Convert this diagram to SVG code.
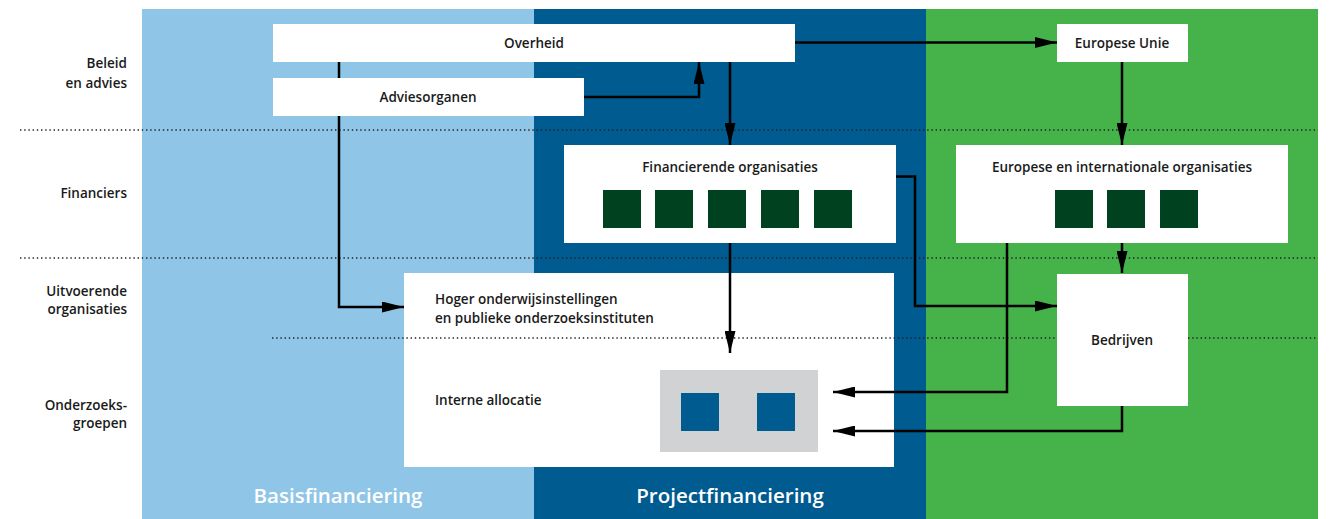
<svg xmlns="http://www.w3.org/2000/svg" width="1332" height="519" viewBox="0 0 1332 519">
<style>
.t{font-family:"Open Sans","Noto Sans","Liberation Sans",sans-serif;font-weight:600;font-size:13.5px;fill:#1a1a1a}
.c{text-anchor:middle}
.r{text-anchor:end}
.big{font-family:"Open Sans","Noto Sans","Liberation Sans",sans-serif;font-weight:600;font-size:20.5px;fill:#ffffff;text-anchor:middle}
.box{fill:#ffffff}
.sq{fill:#00421f}
.bsq{fill:#005b90}
.dot{stroke:#222;stroke-width:1.3;stroke-dasharray:1.4 2.8;fill:none}
.ln{stroke:#000;stroke-width:2.5;fill:none;marker-end:url(#arr)}
</style>
<defs>
<marker id="arr" markerUnits="userSpaceOnUse" markerWidth="22" markerHeight="11" refX="22" refY="5.5" orient="auto">
<path d="M0,0 L22,5.5 L0,11 z" fill="#000"/>
</marker>
</defs>
<rect width="1332" height="519" fill="#ffffff"/>
<g id="panels">
<rect x="142" y="9" width="392" height="510" fill="#8fc6e8"/>
<rect x="534" y="9" width="392" height="510" fill="#005b90"/>
<rect x="926" y="9" width="392" height="510" fill="#46b34a"/>
<text class="big" x="338" y="503">Basisfinanciering</text>
<text class="big" x="730" y="503">Projectfinanciering</text>
</g>
<g id="row-labels">
<text class="t r" x="127" y="67.5">Beleid</text>
<text class="t r" x="127" y="88">en advies</text>
<text class="t r" x="127" y="197.5">Financiers</text>
<text class="t r" x="127" y="296">Uitvoerende</text>
<text class="t r" x="127" y="314">organisaties</text>
<text class="t r" x="127" y="410">Onderzoeks-</text>
<text class="t r" x="127" y="428">groepen</text>
</g>
<g id="row-lines">
<line class="dot" x1="20" y1="130" x2="1318" y2="130"/>
<line class="dot" x1="20" y1="258" x2="1318" y2="258"/>
</g>
<g id="overheid">
<rect class="box" x="273" y="24" width="522" height="38"/>
<text class="t c" x="534" y="48">Overheid</text>
</g>
<g id="adviesorganen">
<rect class="box" x="273" y="78" width="311" height="38"/>
<text class="t c" x="428" y="102">Adviesorganen</text>
</g>
<g id="europese-unie">
<rect class="box" x="1057" y="24" width="131" height="38"/>
<text class="t c" x="1122" y="48">Europese Unie</text>
</g>
<g id="financierende-organisaties">
<rect class="box" x="564" y="145" width="332" height="98"/>
<text class="t c" x="730" y="171.5">Financierende organisaties</text>
<rect class="sq" x="603" y="190" width="38" height="38"/>
<rect class="sq" x="655" y="190" width="38" height="38"/>
<rect class="sq" x="708" y="190" width="38" height="38"/>
<rect class="sq" x="761" y="190" width="38" height="38"/>
<rect class="sq" x="814" y="190" width="38" height="38"/>
</g>
<g id="europese-internationale-organisaties">
<rect class="box" x="956" y="145" width="332" height="98"/>
<text class="t c" x="1122" y="171.5">Europese en internationale organisaties</text>
<rect class="sq" x="1055" y="190" width="38" height="38"/>
<rect class="sq" x="1107" y="190" width="38" height="38"/>
<rect class="sq" x="1160" y="190" width="38" height="38"/>
</g>
<g id="hoger-onderwijs">
<rect class="box" x="404" y="273" width="490" height="194"/>
<text class="t" x="435" y="304">Hoger onderwijsinstellingen</text>
<text class="t" x="435" y="322.5">en publieke onderzoeksinstituten</text>
<text class="t" x="435" y="405">Interne allocatie</text>
</g>
<g id="split-line">
<line class="dot" x1="272" y1="338" x2="1057" y2="338"/>
<line class="dot" x1="1188" y1="338" x2="1318" y2="338"/>
</g>
<g id="onderzoeksgroepen">
<rect x="660" y="370" width="158" height="82" fill="#d1d2d4"/>
<rect class="bsq" x="681" y="393" width="38" height="38"/>
<rect class="bsq" x="757" y="393" width="38" height="38"/>
</g>
<g id="bedrijven">
<rect class="box" x="1057" y="274" width="131" height="132"/>
<text class="t c" x="1122" y="345">Bedrijven</text>
</g>
<g id="connectors">
<path class="ln" d="M339,62 V78 M339,116 V307 H404"/>
<path class="ln" d="M584,97 H699 V62"/>
<path class="ln" d="M730,62 V145"/>
<path class="ln" d="M795,42.5 H1057"/>
<path class="ln" d="M1122,62 V145"/>
<path class="ln" d="M730,243 V353"/>
<path class="ln" d="M896,176.5 H915 V306 H1057"/>
<path class="ln" d="M1122,243 V273"/>
<path class="ln" d="M1007,243 V392 H833"/>
<path class="ln" d="M1122,406 V431 H833"/>
</g>
</svg>
